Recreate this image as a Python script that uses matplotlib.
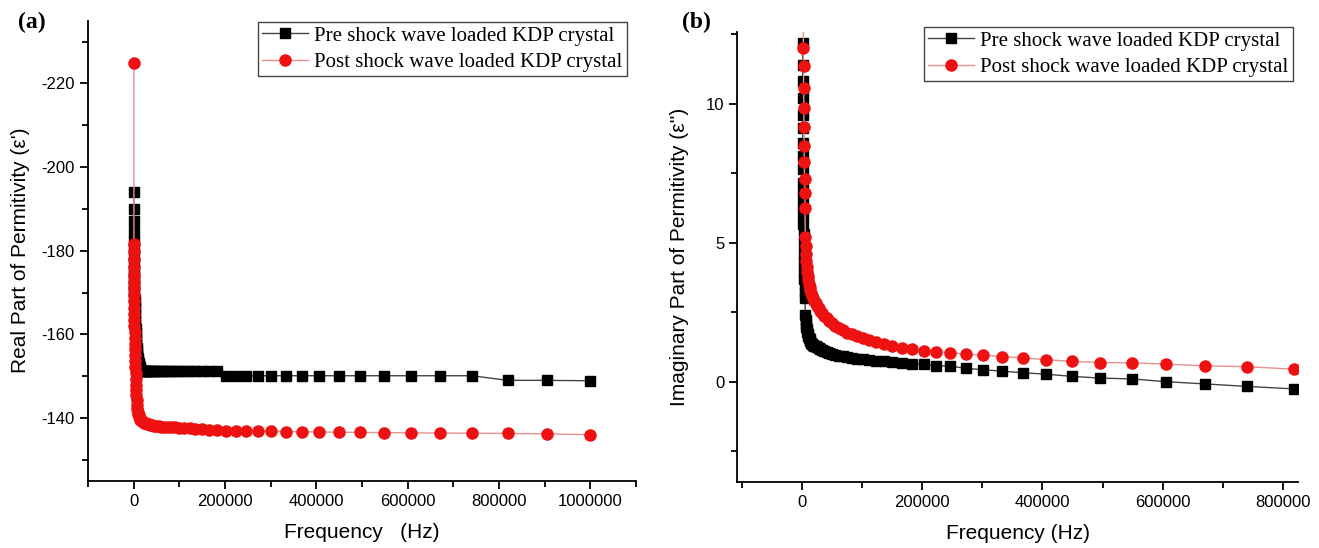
import numpy as np
import matplotlib
matplotlib.use('Agg')
import matplotlib.pyplot as plt
from matplotlib.ticker import MultipleLocator

# frequencias (Hz), mesma grade para as duas amostras
freq = [500, 553, 611, 676, 747, 825, 912, 1008, 1114, 1231, 1360, 1503, 1662, 1836,
        2029, 2243, 2479, 2739, 3028, 3346, 3698, 4087, 4517, 4992, 5517, 6097, 6738,
        7447, 8230, 9095, 10050, 11110, 12280, 13570, 15000, 16570, 18320, 20240, 22370,
        24730, 27320, 30200, 33370, 36880, 40760, 45050, 49790, 55020, 60810, 67210,
        74270, 82090, 90720, 100300, 110800, 122500, 135300, 149600, 165300, 182700,
        201900, 223100, 246600, 272500, 301200, 332900, 367900, 406600, 449300, 496600,
        548800, 606500, 670300, 740800, 818700, 904800, 1000000]

# parte real (a)
real_pre = [-194, -190, -187, -184.5, -182.3, -180.4, -178.6, -177.0, -175.5, -174.1,
            -172.8, -171.5, -170.3, -169.2, -168.1, -167.0, -166.0, -165.0, -164.0, -163.1,
            -162.2, -161.3, -160.4, -159.5, -158.6, -157.7, -156.8, -156.0, -155.2, -154.4,
            -153.7, -153.1, -152.6, -152.2, -151.8, -151.5,
            -151.2, -151.2, -151.2, -151.2, -151.2, -151.2, -151.2, -151.2, -151.2, -151.2,
            -151.2, -151.2, -151.2, -151.2, -151.2, -151.2, -151.2, -151.2, -151.2, -151.2,
            -151.2, -151.2, -151.2, -151.2,
            -150.1, -150.1, -150.1, -150.1, -150.1, -150.1, -150.1, -150.1, -150.1, -150.1,
            -150.1, -150.1, -150.1, -150.1,
            -149.0, -149.0, -148.9]

real_post = [-225, -181.6, -180.0, -178.0, -176.1, -174.3, -172.6, -171.0, -169.4, -167.9,
             -166.4, -164.9, -163.4, -162.0, -160.6, -159.2, -157.8, -156.4, -155.0, -153.6,
             -152.2, -150.8, -149.4, -148.0, -146.7, -145.4, -144.2, -143.1, -142.1,
             -141.5, -141.0, -140.6, -140.2, -139.9, -139.6, -139.4, -139.2, -139.0, -138.9,
             -138.8, -138.7,
             -138.6, -138.5, -138.4, -138.3, -138.2, -138.1, -138.0, -137.95, -137.9, -137.85,
             -137.8, -137.75, -137.7,
             -137.6, -137.5, -137.4, -137.3, -137.2, -137.1, -137.0, -136.95, -136.9, -136.85,
             -136.8, -136.75, -136.7, -136.65, -136.6, -136.55, -136.5, -136.45, -136.4,
             -136.35, -136.3, -136.2, -136.0]

# parte imaginaria (b)
imag_pre = [12.19, 11.41, 10.81, 10.21, 9.61, 9.14, 8.6, 8.12, 7.64, 7.16, 6.75, 6.39, 6.03,
            5.67, 5.3, 4.95, 4.6, 4.3, 4.0, 3.7, 3.45, 3.22, 3.03,
            2.39, 2.22, 2.08, 1.97, 1.88, 1.80, 1.72, 1.65, 1.58, 1.52, 1.46, 1.41, 1.37,
            1.33, 1.30, 1.27, 1.24, 1.21, 1.17, 1.13, 1.09, 1.06, 1.03, 1.00, 0.97, 0.94,
            0.91, 0.88, 0.85, 0.83, 0.81, 0.79, 0.76, 0.73, 0.70, 0.67, 0.65, 0.62, 0.58,
            0.56, 0.48, 0.43, 0.38, 0.32, 0.27, 0.19, 0.13, 0.10, 0.00, -0.08, -0.17,
            -0.26, -0.35, -0.45]

# a amostra pos-choque comeca em freq[12]
imag_post = [13.5, 12.0, 11.35, 10.57, 9.86, 9.18, 8.48, 7.91, 7.31, 6.79, 6.25,
             5.2, 4.9, 4.6, 4.35, 4.12, 3.95, 3.8, 3.66, 3.53, 3.41, 3.30, 3.20, 3.10,
             3.00, 2.91, 2.82, 2.73, 2.64, 2.55, 2.46, 2.37, 2.28, 2.19, 2.10, 2.01, 1.93,
             1.85, 1.77, 1.70, 1.63, 1.56, 1.50, 1.44, 1.37, 1.30, 1.23, 1.16, 1.12, 1.08,
             1.05, 0.98, 0.96, 0.90, 0.86, 0.79, 0.73, 0.69, 0.68, 0.63, 0.57, 0.54, 0.45,
             0.40, 0.33]

label_pre = 'Pre shock wave loaded KDP crystal'
label_post = 'Post shock wave loaded KDP crystal'

plt.rcParams['font.family'] = ['Liberation Sans', 'DejaVu Sans']
plt.rcParams['axes.unicode_minus'] = False
serif = ['Liberation Serif', 'DejaVu Serif']


def style_axes(ax):
    for s in ['top', 'right']:
        ax.spines[s].set_visible(False)
    ax.spines['left'].set_linewidth(1.3)
    ax.spines['bottom'].set_linewidth(1.3)
    ax.tick_params(which='major', direction='out', length=6, width=1.3, labelsize=12)
    ax.tick_params(which='minor', direction='out', length=4, width=1.3)
    ax.xaxis.set_major_locator(MultipleLocator(200000))
    ax.xaxis.set_minor_locator(MultipleLocator(100000))
    ax.ticklabel_format(axis='x', style='plain', useOffset=False)


def plot_series(ax, x, y_pre, x_post, y_post):
    ax.plot(x, y_pre, color='#444444', lw=1.0, marker='s', ms=6.5,
            mfc='black', mec='black', label=label_pre)
    ax.plot(x_post, y_post, color='#e89090', lw=1.0, marker='o', ms=8,
            mfc='#ee1111', mec='#ee1111', label=label_post)


def add_legend(ax, x_px, y_px):
    ax.legend(loc='upper left', bbox_to_anchor=(x_px / 1319, 1 - y_px / 548),
              bbox_transform=fig.transFigure, prop={'family': serif, 'size': 15},
              frameon=True, fancybox=False, edgecolor='#444444', framealpha=1,
              borderpad=0.2, labelspacing=0.32, handlelength=2.2, handletextpad=0.3,
              borderaxespad=0)


fig = plt.figure(figsize=(13.19, 5.48), dpi=100)

# (a) parte real
ax1 = fig.add_axes([0.0667, 0.1228, 0.4155, 0.8394])
plot_series(ax1, freq, real_pre, freq, real_post)
ax1.set_xlim(-100000, 1100000)
ax1.set_ylim(-125, -235)
ax1.yaxis.set_major_locator(MultipleLocator(20))
ax1.yaxis.set_minor_locator(MultipleLocator(10))
style_axes(ax1)
ax1.set_xlabel('Frequency   (Hz)', fontsize=15, labelpad=10)
ax1.set_ylabel("Real Part of Permitivity (\u03b5')", fontsize=15, labelpad=8)
add_legend(ax1, 258, 22)

# (b) parte imaginaria
ax2 = fig.add_axes([0.5591, 0.121, 0.4247, 0.8212])
plot_series(ax2, freq, imag_pre, freq[12:], imag_post)
ax2.set_xlim(-108000, 825000)
ax2.set_ylim(-3.6, 12.6)
ax2.yaxis.set_major_locator(MultipleLocator(5))
ax2.yaxis.set_minor_locator(MultipleLocator(2.5))
style_axes(ax2)
ax2.set_xlabel('Frequency (Hz)', fontsize=15, labelpad=10)
ax2.set_ylabel("Imaginary Part of Permitivity (\u03b5'')", fontsize=15, labelpad=12)
add_legend(ax2, 924, 27)

fig.text(18 / 1319, 1 - 28 / 548, '(a)', fontsize=17, fontweight='bold', family=serif)
fig.text(682 / 1319, 1 - 28 / 548, '(b)', fontsize=17, fontweight='bold', family=serif)

fig.savefig('out.png', dpi=100)
